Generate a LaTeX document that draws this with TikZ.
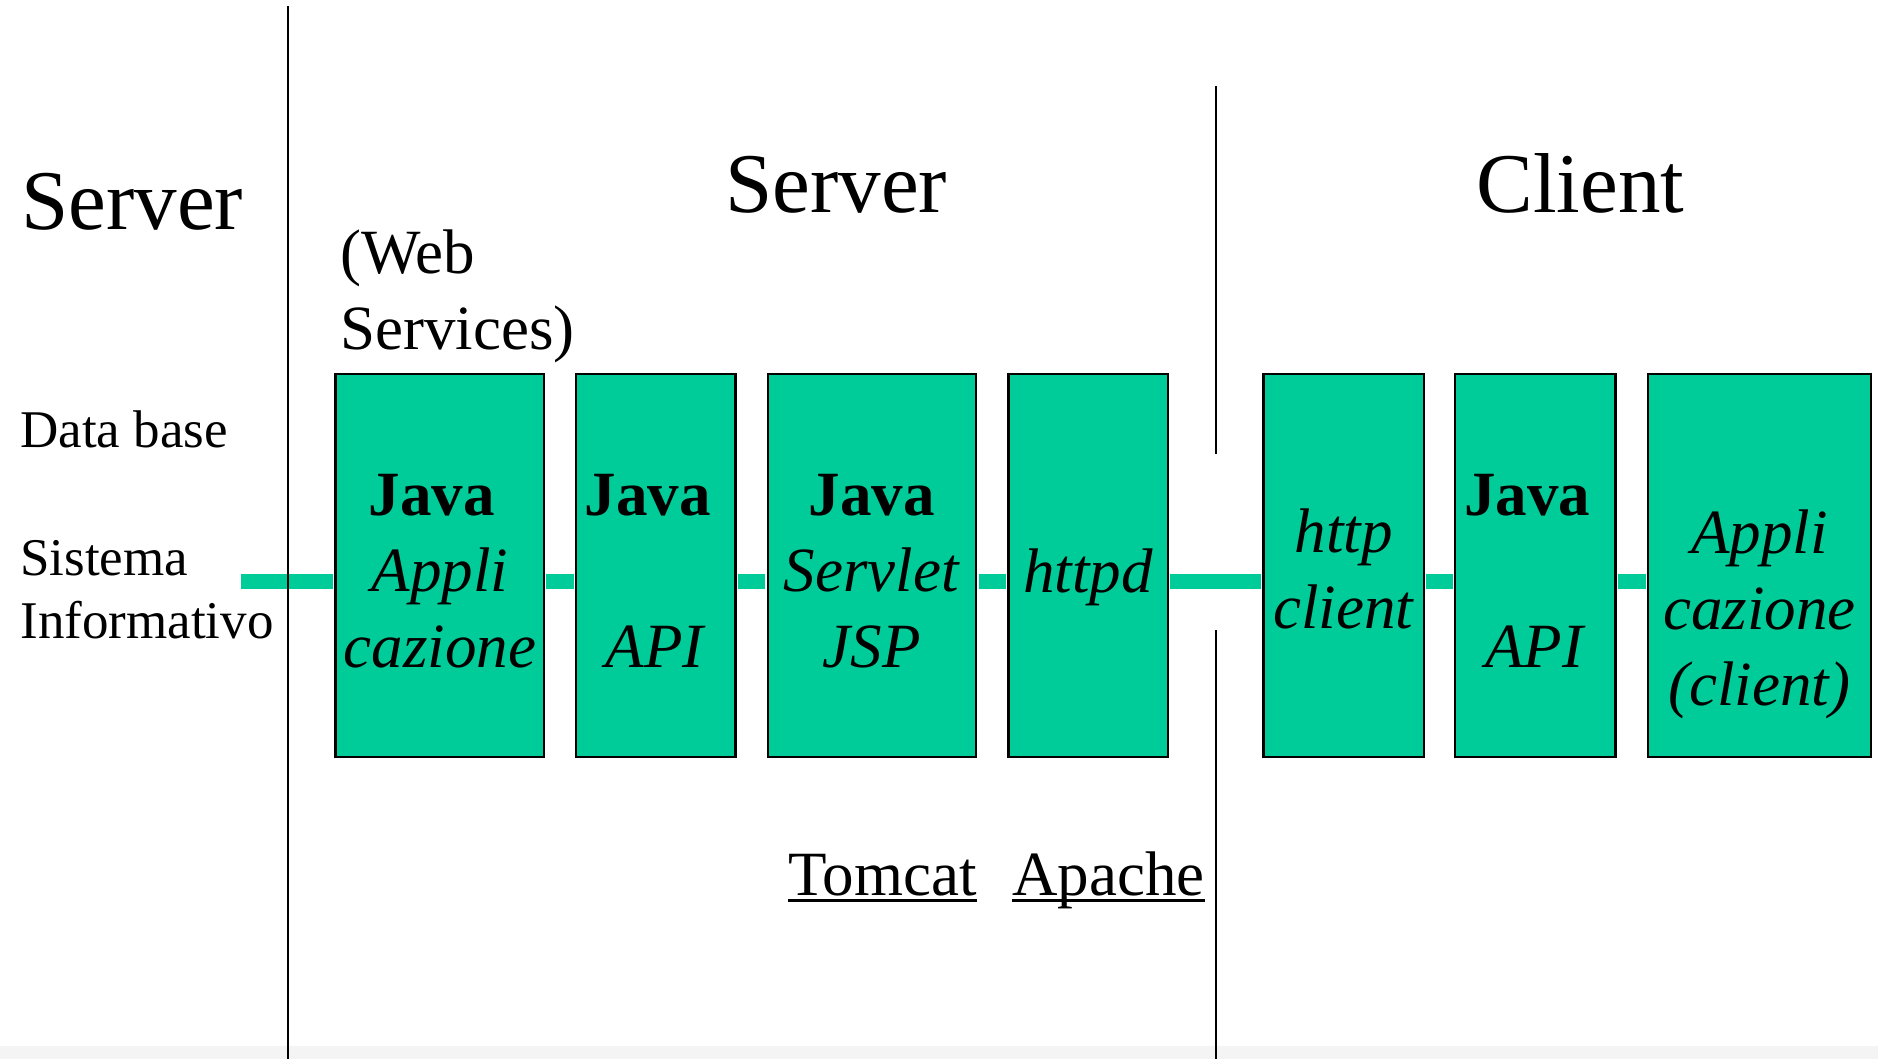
\documentclass[tikz,border=0pt]{standalone}
\usepackage{fontspec}
\setmainfont{Liberation Serif}
\usetikzlibrary{positioning}
\definecolor{javagreen}{HTML}{00CC99}
\definecolor{stripgray}{HTML}{F4F4F4}
\newcommand{\bigfnt}{\fontsize{42.5pt}{51pt}\selectfont}
\newcommand{\boxfnt}{\fontsize{31.5pt}{38pt}\selectfont}
\newcommand{\sidefnt}{\fontsize{26.5pt}{31.75pt}\selectfont}
\begin{document}
\begin{tikzpicture}[
  x=0.5pt, y=-0.5pt,
  block/.style={rectangle, draw, line width=1.2pt, fill=javagreen, minimum height=191.6pt, inner sep=0pt, align=center, font=\boxfnt, text depth=0pt},
  bar/.style={draw=javagreen, line width=7.5pt, shorten <=0.6pt, shorten >=0.6pt},
  sep/.style={draw, line width=1pt},
  txt/.style={inner sep=0pt, anchor=base west},
  heading/.style={txt, font=\bigfnt},
  side/.style={txt, font=\sidefnt},
  node distance=108pt
]
\useasboundingbox[fill=white] (0,0) rectangle (1878,1059);
\fill[stripgray] (0,1046) rectangle (1878,1059);

\node[block, minimum width=104.2pt, text height=101.5pt] (app) at (439.75,565.5) {\textbf{Java}\kern8pt\\\textit{Appli}\\\textit{cazione}};
\node[block, minimum width=79.7pt, text height=101.5pt, right of=app] (api) {\textbf{Java}\kern8pt\\ \\\textit{API}};
\node[block, minimum width=104.2pt, text height=101.5pt, right of=api, node distance=108.1pt] (servlet) {\textbf{Java}\\\textit{Servlet}\\\textit{JSP}};
\node[block, minimum width=79.7pt, text height=26.5pt, right of=servlet, node distance=108.1pt] (httpd) {\textit{httpd}};
\node[block, minimum width=80.2pt, text height=62.5pt, right of=httpd, node distance=127.8pt] (httpcl) {\textit{http}\\\textit{client}};
\node[block, minimum width=80.3pt, text height=101.5pt, right of=httpcl, node distance=95.8pt] (capi) {\textbf{Java}\kern8pt\\ \\\textit{API}};
\node[block, minimum width=111.4pt, text height=139.5pt, right of=capi, node distance=112pt] (capp) {\textit{Appli}\\\textit{cazione}\\\textit{(client)}};

\coordinate (sis) at (240,581.5);
\draw[bar] (sis) -- ([yshift=-8pt]app.west);
\foreach \a/\b in {app/api, api/servlet, servlet/httpd, httpd/httpcl, httpcl/capi, capi/capp}
  \draw[bar] ([yshift=-8pt]\a.east) -- ([yshift=-8pt]\b.west);

\coordinate (top1) at (287.8,6);
\coordinate (bot1) at (287.8,1059);
\coordinate (top2) at (1216,86);
\coordinate (gapa) at (1216,454);
\coordinate (gapb) at (1216,630);
\coordinate (bot2) at (1216,1059);
\draw[sep] (top1) -- (bot1);
\draw[sep] (top2) -- (gapa);
\draw[sep] (gapb) -- (bot2);

\node[heading] (srvleft) at (21,229) {Server};
\node[heading] (srvmid) at (725,213) {Server};
\node[heading] (client) at (1476,213) {Client};
\node[inner sep=0pt, anchor=north west, align=left, font=\boxfnt] (websrv) at (340,229) {(Web\\Services)};
\node[side] (db) at (20,447) {Data base};
\node[inner sep=0pt, anchor=north west, align=left, font=\sidefnt] (sisinf) at (20,540) {Sistema\\Informativo};

\node[txt, font=\boxfnt] (tomcat) at (788,895) {Tomcat};
\node[txt, font=\boxfnt] (apache) at (1012,895) {Apache};
\draw[line width=1.5pt] ([yshift=-2.5pt]tomcat.base west) -- ([yshift=-2.5pt]tomcat.base east);
\draw[line width=1.5pt] ([yshift=-2.5pt]apache.base west) -- ([yshift=-2.5pt]apache.base east);
\end{tikzpicture}
\end{document}
